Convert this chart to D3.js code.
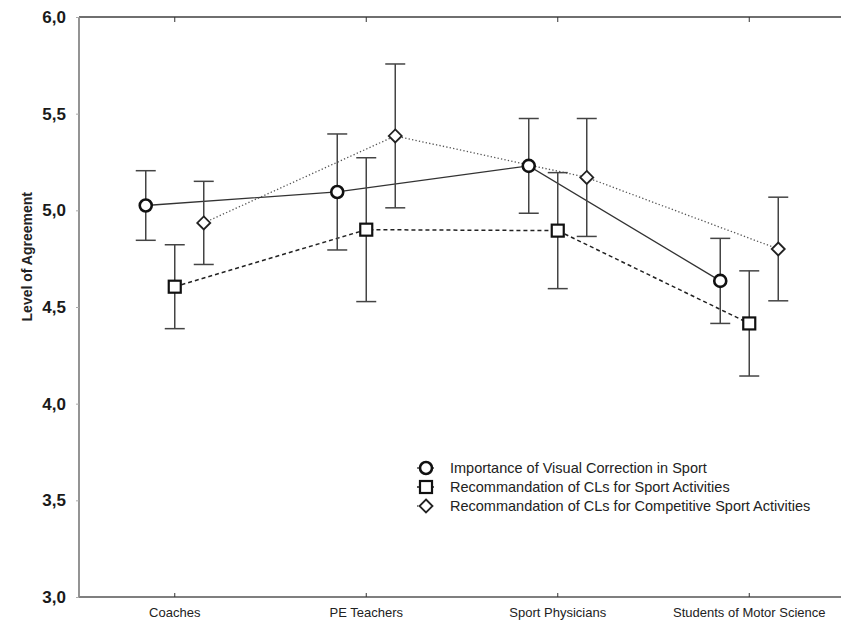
<!DOCTYPE html>
<html>
<head>
<meta charset="utf-8">
<script src="https://cdn.jsdelivr.net/npm/d3@7/dist/d3.min.js"></script>
<style>
  html, body { margin: 0; padding: 0; background: #fff; }
  svg { display: block; }
</style>
</head>
<body>
<svg id="chart" width="841" height="626"></svg>
<script>
const categories = ["Coaches", "PE Teachers", "Sport Physicians", "Students of Motor Science"];
const yTicks = [3.0, 3.5, 4.0, 4.5, 5.0, 5.5, 6.0];

const seriesNames = [
  "Importance of Visual Correction in Sport",
  "Recommandation of CLs for Sport Activities",
  "Recommandation of CLs for Competitive Sport Activities"
];
const visualMean = [5.025, 5.095, 5.23, 4.635];
const visualErr  = [0.18, 0.30, 0.245, 0.22];
const sportMean  = [4.605, 4.90, 4.895, 4.415];
const sportErr   = [0.217, 0.372, 0.30, 0.272];
const compMean   = [4.935, 5.385, 5.17, 4.80];
const compErr    = [0.215, 0.372, 0.305, 0.268];

const svg = d3.select("#chart");
const pLeft = 79, pTop = 17, pBottom = 597;
const FONT = "Liberation Sans, Arial, sans-serif";

const x = d3.scaleBand().domain(categories).range([pLeft, 845]);
const y = d3.scaleLinear().domain([3, 6]).range([pBottom, pTop]);
const cx = c => x(c) + x.bandwidth() / 2;

const series = [
  { name: seriesNames[0], mean: visualMean, err: visualErr, off: -29, shape: "circle", dash: null, lineColor: "#333", lw: 1.3 },
  { name: seriesNames[1], mean: sportMean, err: sportErr, off: 0, shape: "square", dash: "4,3", lineColor: "#222", lw: 1.5 },
  { name: seriesNames[2], mean: compMean, err: compErr, off: 29, shape: "diamond", dash: "1.3,2.2", lineColor: "#555", lw: 1.3 }
];

// frame lines
svg.append("line").attr("x1", pLeft).attr("x2", 841).attr("y1", pTop).attr("y2", pTop)
  .attr("stroke", "#6f6f6f").attr("stroke-width", 1.8);
svg.append("line").attr("x1", pLeft).attr("x2", 841).attr("y1", pBottom).attr("y2", pBottom)
  .attr("stroke", "#555").attr("stroke-width", 1.5);
svg.append("line").attr("x1", pLeft).attr("x2", pLeft).attr("y1", pTop).attr("y2", pBottom)
  .attr("stroke", "#888").attr("stroke-width", 1.8);

// y axis
const yAxis = svg.append("g").attr("transform", `translate(${pLeft},0)`)
  .call(d3.axisLeft(y).tickValues(yTicks).tickSize(3).tickPadding(10)
    .tickFormat(d => d3.format(".1f")(d).replace(".", ",")));
yAxis.select(".domain").remove();
yAxis.selectAll(".tick line").attr("stroke", "#aaa");
yAxis.selectAll("text").attr("font-family", FONT)
  .attr("font-size", 17).attr("font-weight", "bold").attr("fill", "#1a1a1a");

// bottom axis
const xAxis = svg.append("g").attr("transform", `translate(0,${pBottom})`)
  .call(d3.axisBottom(x).tickSize(-4).tickPadding(11));
xAxis.select(".domain").remove();
xAxis.selectAll(".tick line").attr("stroke", "#333");
xAxis.selectAll("text").attr("font-family", FONT)
  .attr("font-size", 13).attr("fill", "#222");

// top axis ticks
const tAxis = svg.append("g").attr("transform", `translate(0,${pTop})`)
  .call(d3.axisTop(x).tickSize(-5).tickFormat(""));
tAxis.select(".domain").remove();
tAxis.selectAll(".tick line").attr("stroke", "#333");

// y axis title
svg.append("text")
  .attr("transform", `translate(32,${y(4.76)}) rotate(-90)`)
  .attr("text-anchor", "middle")
  .attr("font-family", FONT)
  .attr("font-size", 14).attr("font-weight", "bold").attr("fill", "#222")
  .text("Level of Agreement");

// lines
series.forEach(s => {
  const line = d3.line().x((d, i) => cx(categories[i]) + s.off).y(d => y(d));
  svg.append("path").datum(s.mean)
    .attr("d", line).attr("fill", "none")
    .attr("stroke", s.lineColor).attr("stroke-width", s.lw)
    .attr("stroke-dasharray", s.dash);
});

// error bars
series.forEach(s => {
  const g = svg.append("g");
  s.mean.forEach((m, i) => {
    const px = cx(categories[i]) + s.off;
    const hi = y(m + s.err[i]), lo = y(m - s.err[i]);
    g.append("line").attr("x1", px).attr("x2", px).attr("y1", hi).attr("y2", lo)
      .attr("stroke", "#444").attr("stroke-width", 1.5);
    [hi, lo].forEach(yy => g.append("line").attr("x1", px - 10).attr("x2", px + 10)
      .attr("y1", yy).attr("y2", yy).attr("stroke", "#444").attr("stroke-width", 1.5));
  });
});

function drawMarker(g, shape, px, py) {
  if (shape === "circle") {
    g.append("circle").attr("cx", px).attr("cy", py).attr("r", 6)
      .attr("fill", "#fff").attr("stroke", "#111").attr("stroke-width", 2.6);
  } else if (shape === "square") {
    g.append("rect").attr("x", px - 6).attr("y", py - 6).attr("width", 12).attr("height", 12)
      .attr("fill", "#fff").attr("stroke", "#111").attr("stroke-width", 2.2);
  } else {
    const r = 6.5;
    g.append("path").attr("d", `M${px},${py - r}L${px + r},${py}L${px},${py + r}L${px - r},${py}Z`)
      .attr("fill", "#fff").attr("stroke", "#222").attr("stroke-width", 1.8);
  }
}

// markers
series.forEach(s => {
  const g = svg.append("g");
  s.mean.forEach((m, i) => drawMarker(g, s.shape, cx(categories[i]) + s.off, y(m)));
});

// legend
const lg = svg.append("g");
series.forEach((s, i) => {
  const ly = 468 + i * 19;
  lg.append("line").attr("x1", 417).attr("x2", 434).attr("y1", ly).attr("y2", ly)
    .attr("stroke", s.lineColor).attr("stroke-width", s.lw).attr("stroke-dasharray", s.dash);
  drawMarker(lg, s.shape, 426, ly);
  lg.append("text").attr("x", 450).attr("y", ly).attr("dy", "0.36em")
    .attr("font-family", FONT)
    .attr("font-size", 14.5).attr("fill", "#222").text(s.name);
});
</script>
</body>
</html>
